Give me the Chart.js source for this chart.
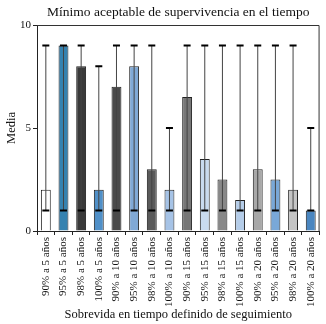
<!DOCTYPE html>
<html>
<head>
<meta charset="utf-8">
<script src="https://cdn.jsdelivr.net/npm/chart.js@4"></script>
<style>
  html, body { margin: 0; padding: 0; background: #fff; }
  #wrap { width: 326px; height: 324px; }
</style>
</head>
<body>
<div id="wrap"><canvas id="chart" width="326" height="324"></canvas></div>
<script>
// data
const categories = [
    '90% a 5 años', '95% a 5 años', '98% a 5 años', '100% a 5 años',
    '90% a 10 años', '95% a 10 años', '98% a 10 años', '100% a 10 años',
    '90% a 15 años', '95% a 15 años', '98% a 15 años', '100% a 15 años',
    '90% a 20 años', '95% a 20 años', '98% a 20 años', '100% a 20 años'
];
const means = [2, 9, 8, 2, 7, 8, 3, 2, 6.5, 3.5, 2.5, 1.5, 3, 2.5, 2, 1];
const mins  = [1, 1, 1, 1, 1, 1, 1, 1, 1, 1, 1, 1, 1, 1, 1, 1];
const maxes = [9, 9, 9, 8, 9, 9, 9, 5, 9, 9, 9, 9, 9, 9, 9, 5];
const yTicks = [0, 5, 10];
const chartTitle = 'Mínimo aceptable de supervivencia en el tiempo';

const barColors = [
    '#ffffff', '#3582b0', '#3a3a3a', '#5090c8',
    '#4b4b4b', '#80a9d6', '#5a5a5a', '#a6c3e6',
    '#777777', '#c9dbef', '#888888', '#b5cde9',
    '#a8a8a8', '#79a8d8', '#c4c4c4', '#4a86c0'
];

const serif = "'Liberation Serif', 'DejaVu Serif', serif";

// whiskers min..max with caps
const errorBars = {
    id: 'errorBars',
    afterDatasetsDraw(chart) {
        const ctx = chart.ctx;
        const meta = chart.getDatasetMeta(0);
        const y = chart.scales.y;
        ctx.save();
        meta.data.forEach((bar, i) => {
            const x = bar.x;
            const yLo = y.getPixelForValue(mins[i]);
            const yHi = y.getPixelForValue(maxes[i]);
            ctx.strokeStyle = '#444';
            ctx.lineWidth = 1;
            ctx.beginPath();
            ctx.moveTo(x, yLo);
            ctx.lineTo(x, yHi);
            ctx.stroke();
            ctx.strokeStyle = '#000';
            ctx.lineWidth = 2;
            ctx.beginPath();
            ctx.moveTo(x - 3.5, yHi);
            ctx.lineTo(x + 3.5, yHi);
            ctx.moveTo(x - 3.5, yLo);
            ctx.lineTo(x + 3.5, yLo);
            ctx.stroke();
        });
        ctx.restore();
    }
};

// top and right frame lines, title centred over the plot
const frame = {
    id: 'frame',
    afterDraw(chart) {
        const a = chart.chartArea;
        const ctx = chart.ctx;
        ctx.save();
        ctx.strokeStyle = '#333';
        ctx.lineWidth = 1;
        ctx.beginPath();
        ctx.moveTo(a.left, a.top + 0.5);
        ctx.lineTo(a.right - 0.5, a.top + 0.5);
        ctx.lineTo(a.right - 0.5, a.bottom);
        ctx.stroke();
        ctx.fillStyle = '#111';
        ctx.font = '13.5px ' + serif;
        ctx.textAlign = 'center';
        ctx.textBaseline = 'middle';
        ctx.fillText(chartTitle, (a.left + a.right) / 2, 12);
        ctx.restore();
    }
};

new Chart(document.getElementById('chart').getContext('2d'), {
    type: 'bar',
    data: {
        labels: categories,
        datasets: [{
            data: means,
            backgroundColor: barColors,
            borderColor: '#222',
            borderWidth: 1,
            barPercentage: 0.56,
            categoryPercentage: 1.0
        }]
    },
    options: {
        responsive: false,
        animation: false,
        layout: { padding: { right: 2, left: 4, bottom: 0 } },
        plugins: {
            legend: { display: false },
            tooltip: { enabled: false },
            title: {
                display: true,
                text: chartTitle,
                color: 'rgba(0,0,0,0)',
                font: { family: serif, size: 12.5, weight: 'normal' },
                padding: { top: 3, bottom: 7 }
            }
        },
        scales: {
            x: {
                grid: { display: true, drawOnChartArea: false, tickLength: 4, color: '#222' },
                border: { display: true, color: '#222' },
                ticks: {
                    minRotation: 90,
                    maxRotation: 90,
                    autoSkip: false,
                    padding: 2,
                    color: '#111',
                    font: { family: serif, size: 11 }
                },
                title: {
                    display: true,
                    text: 'Sobrevida en tiempo definido de seguimiento',
                    color: '#111',
                    font: { family: serif, size: 12.5 },
                    padding: { top: 4, bottom: 2 }
                },
                afterFit(scale) { scale.height = 93; }
            },
            y: {
                min: 0,
                max: 10,
                afterBuildTicks(scale) { scale.ticks = yTicks.map(v => ({ value: v })); },
                grid: { display: true, drawOnChartArea: false, tickLength: 4, color: '#222' },
                border: { display: true, color: '#222' },
                ticks: {
                    padding: 2,
                    color: '#111',
                    font: { family: serif, size: 11 }
                },
                title: {
                    display: true,
                    text: 'Media',
                    color: '#111',
                    font: { family: serif, size: 12.5 },
                    padding: { top: 0, bottom: 2 }
                },
                afterFit(scale) { scale.width = 33; }
            }
        }
    },
    plugins: [errorBars, frame]
});
</script>
</body>
</html>
